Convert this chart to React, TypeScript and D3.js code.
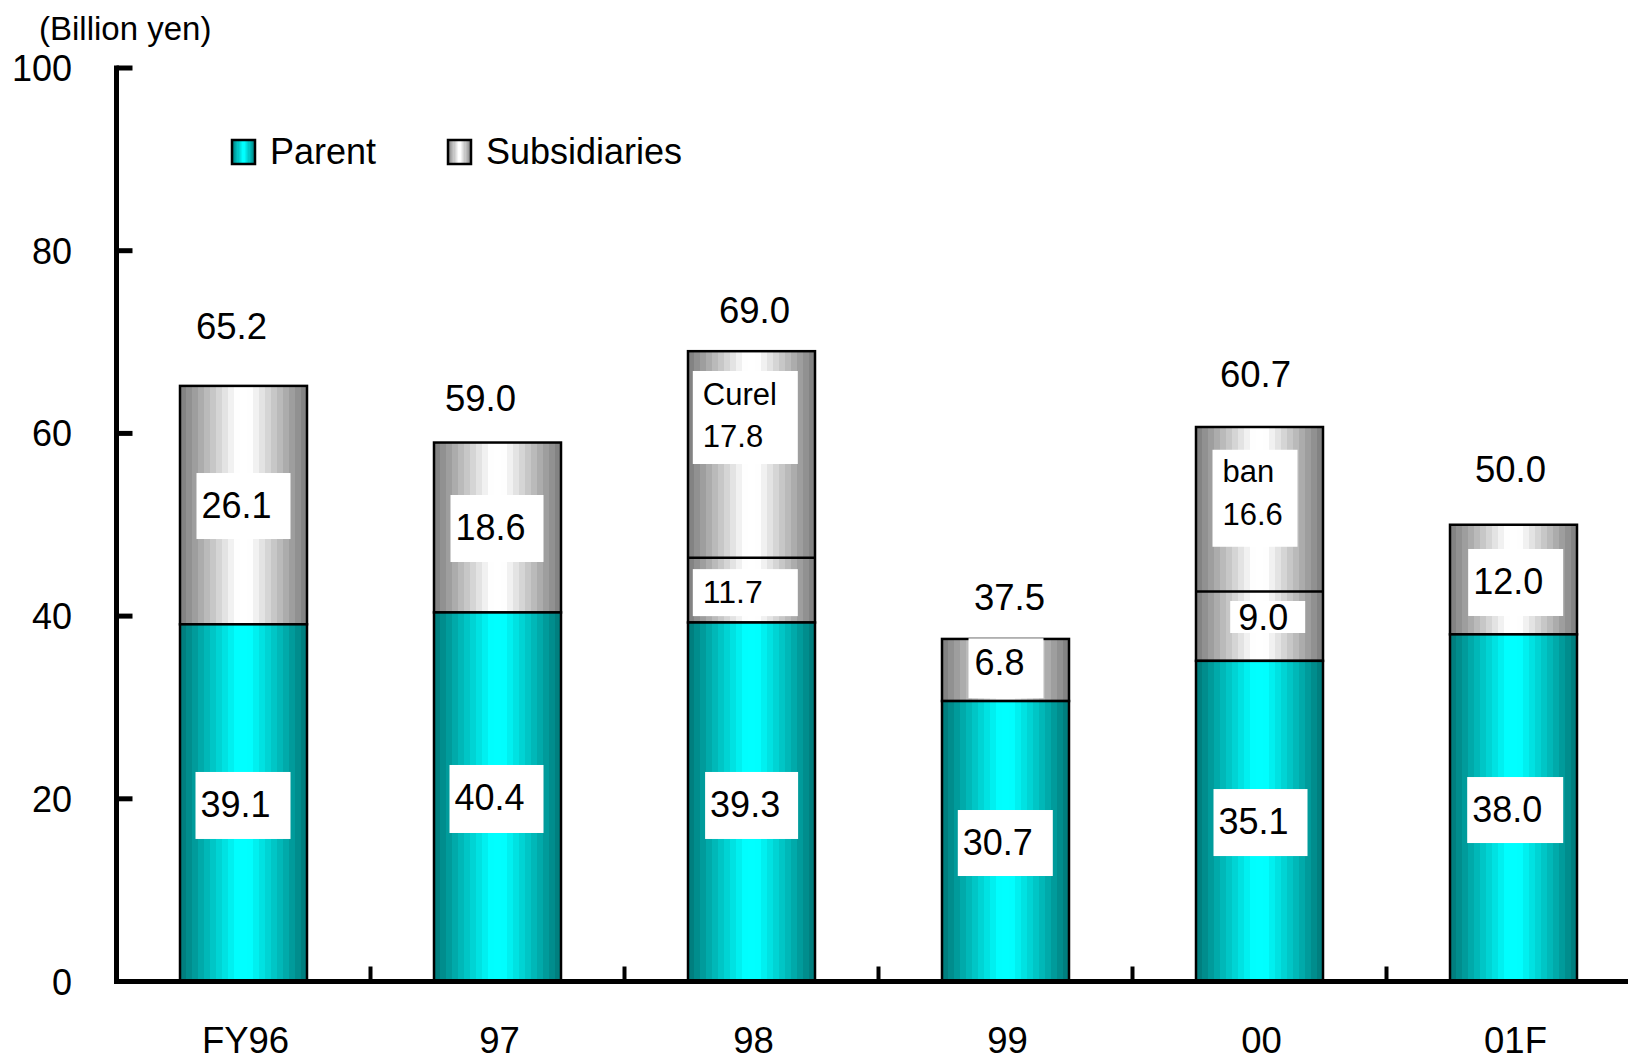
import React from 'react';
import * as d3 from 'd3';

const categories = ['FY96', '97', '98', '99', '00', '01F'];
const parentValues = [39.1, 40.4, 39.3, 30.7, 35.1, 38.0];
const subsidiaryValues = [26.1, 18.6, 29.7, 6.8, 25.6, 12.0];
const totalValues = [65.2, 59.0, 69.0, 37.5, 60.7, 50.0];
const totalLabels = ['65.2', '59.0', '69.0', '37.5', '60.7', '50.0'];
// position where the acquisition (Curel / ban) part is separated inside the subsidiaries bar
const dividerValues: (number | null)[] = [null, null, 46.4, null, 42.7, null];
const yTicks = [0, 20, 40, 60, 80, 100];
const legendItems = ['Parent', 'Subsidiaries'];

// segment labels: category index, lines, value at box centre
const segLabelCat = [0, 0, 1, 1, 2, 2, 2, 3, 3, 4, 4, 4, 5, 5];
const segLabelLines = [
  ['26.1'], ['39.1'], ['18.6'], ['40.4'], ['Curel', '17.8'], ['11.7'], ['39.3'],
  ['6.8'], ['30.7'], ['ban', '16.6'], ['9.0'], ['35.1'], ['12.0'], ['38.0'],
];
const segLabelCentre = [52.05, 19.27, 49.59, 19.98, 61.74, 42.57, 19.27, 34.29, 15.16, 52.9, 39.9, 17.4, 43.68, 18.77];

// layout for the label boxes (pixels): dx from bar centre, width, height, font, text dx, first baseline, line height
const segBoxDx = [-47, -48, -47, -48, -58.7, -58.7, -46.4, -37, -47.7, -47, -29.3, -46, -45.3, -46.3];
const segBoxW = [94, 95, 93, 94, 105, 105, 93, 75, 95, 85, 75, 94, 95, 96];
const segBoxH = [66, 67, 67, 68, 93, 47, 67, 60, 66, 97, 32, 67, 67, 66];
const segFont = [36, 36, 36, 36, 31, 32, 36, 36, 36, 31, 36, 36, 36, 36];
const segTextDx = [5, 5, 5, 5, 10, 10, 5, 6, 5, 10, 8, 5, 5, 5];
const segTextDy = [45, 45, 45, 45, 33.5, 34, 45, 36.7, 45, 32.7, 29, 45, 45, 45];
const segLineH = [0, 0, 0, 0, 42.7, 0, 0, 0, 0, 43, 0, 0, 0, 0];

const totalDx = [-12, -17, 3, 4, -4, -3];
const totalDy = [47, 32, 28, 29, 40, 43];

const FONT = '"Liberation Sans", Arial, Helvetica, sans-serif';

function bandStops(dark: string, light: string, n: number) {
  const interp = d3.interpolateRgb(dark, light);
  const stops: { offset: string; color: string }[] = [];
  for (let i = 0; i < n; i++) {
    const mid = (i + 0.5) / n;
    const k = 1 - Math.abs(mid - 0.5) * 2;
    const c = interp(Math.min(1, k * 1.1));
    stops.push({ offset: `${(i / n) * 100}%`, color: c });
    stops.push({ offset: `${((i + 1) / n) * 100}%`, color: c });
  }
  return stops;
}

export default function App() {
  const W = 1628;
  const H = 1060;
  const x0 = 116.5;
  const step = 254;
  const x = d3
    .scaleBand<string>()
    .domain(categories)
    .range([x0, x0 + step * categories.length])
    .paddingInner(0.5)
    .paddingOuter(0.25);
  const y = d3.scaleLinear().domain([0, 100]).range([981.5, 68]);
  const bw = x.bandwidth();
  const cx = (i: number) => (x(categories[i]) as number) + bw / 2;

  const tealStops = bandStops('#007878', '#00ffff', 21);
  const grayStops = bandStops('#7c7c7c', '#ffffff', 21);

  return (
    <svg
      width={W}
      height={H}
      style={{ position: 'absolute', left: 0, top: 0, background: '#fff', display: 'block' }}
      fontFamily={FONT}
    >
      <defs>
        <linearGradient id="gParent" x1="0" x2="1" y1="0" y2="0">
          {tealStops.map((s, i) => (
            <stop key={i} offset={s.offset} stopColor={s.color} />
          ))}
        </linearGradient>
        <linearGradient id="gSubs" x1="0" x2="1" y1="0" y2="0">
          {grayStops.map((s, i) => (
            <stop key={i} offset={s.offset} stopColor={s.color} />
          ))}
        </linearGradient>
      </defs>
      <rect x={0} y={0} width={W} height={H} fill="#fff" />

      {/* unit title */}
      <text x={39} y={40} fontSize={33} fill="#000">(Billion yen)</text>

      {/* bars */}
      {categories.map((c, i) => {
        const bx = x(c) as number;
        const p = parentValues[i];
        const t = p + subsidiaryValues[i];
        const d = dividerValues[i];
        return (
          <g key={c}>
            <rect x={bx} y={y(t)} width={bw} height={y(p) - y(t)} fill="url(#gSubs)" stroke="#000" strokeWidth={2.5} />
            <rect x={bx} y={y(p)} width={bw} height={y(0) - y(p)} fill="url(#gParent)" stroke="#000" strokeWidth={2.5} />
            {d !== null && (
              <line x1={bx} x2={bx + bw} y1={y(d)} y2={y(d)} stroke="#000" strokeWidth={2.5} />
            )}
          </g>
        );
      })}

      {/* segment labels */}
      {segLabelCat.map((ci, k) => {
        const boxX = cx(ci) + segBoxDx[k];
        const boxY = y(segLabelCentre[k]) - segBoxH[k] / 2;
        return (
          <g key={`seg${k}`}>
            <rect x={boxX} y={boxY} width={segBoxW[k]} height={segBoxH[k]} fill="#fff" />
            {segLabelLines[k].map((ln, j) => (
              <text
                key={j}
                x={boxX + segTextDx[k]}
                y={boxY + segTextDy[k] + j * segLineH[k]}
                fontSize={segFont[k]}
                fill="#000"
              >
                {ln}
              </text>
            ))}
          </g>
        );
      })}

      {/* total labels */}
      {categories.map((c, i) => (
        <text
          key={`tot${c}`}
          x={cx(i) + totalDx[i]}
          y={y(totalValues[i]) - totalDy[i]}
          fontSize={36.5}
          textAnchor="middle"
          fill="#000"
        >
          {totalLabels[i]}
        </text>
      ))}

      {/* y axis */}
      <line x1={x0} x2={x0} y1={y(100) - 2.5} y2={y(0)} stroke="#000" strokeWidth={5} />
      {yTicks.map((v) => (
        <g key={`yt${v}`}>
          {v > 0 && <line x1={x0} x2={x0 + 16} y1={y(v)} y2={y(v)} stroke="#000" strokeWidth={5} />}
          <text x={72} y={y(v) + 13} fontSize={36} textAnchor="end" fill="#000">
            {v}
          </text>
        </g>
      ))}

      {/* x axis */}
      <line x1={x0 - 2.5} x2={W} y1={y(0)} y2={y(0)} stroke="#000" strokeWidth={5} />
      {categories.map((c, i) =>
        i > 0 ? (
          <line
            key={`xt${c}`}
            x1={(x(c) as number) - step * 0.25}
            x2={(x(c) as number) - step * 0.25}
            y1={y(0)}
            y2={y(0) - 15}
            stroke="#000"
            strokeWidth={4}
          />
        ) : null
      )}
      {categories.map((c, i) => (
        <text key={`xl${c}`} x={cx(i) + 2} y={1052.7} fontSize={36.5} textAnchor="middle" fill="#000">
          {c}
        </text>
      ))}

      {/* legend */}
      {legendItems.map((name, i) => {
        const sx = i === 0 ? 232 : 448;
        return (
          <g key={name}>
            <rect x={sx} y={140} width={23} height={24} fill={i === 0 ? 'url(#gParent)' : 'url(#gSubs)'} stroke="#000" strokeWidth={2.5} />
            <text x={sx + 38} y={164} fontSize={36} fill="#000">
              {name}
            </text>
          </g>
        );
      })}
    </svg>
  );
}
